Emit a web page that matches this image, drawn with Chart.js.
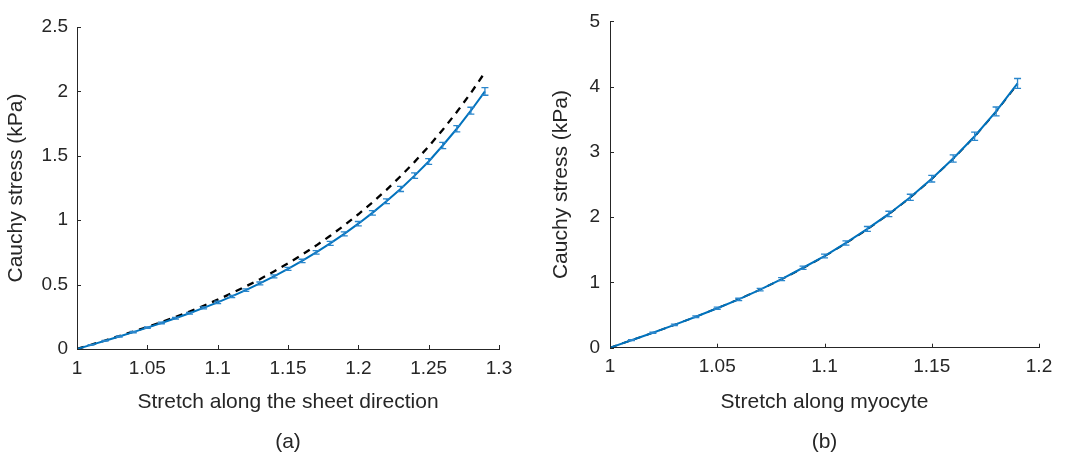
<!DOCTYPE html>
<html>
<head>
<meta charset="utf-8">
<script src="https://cdn.jsdelivr.net/npm/chart.js@4.4.0/dist/chart.umd.min.js"></script>
<style>
    html, body { margin: 0; padding: 0; background: #fff; }
    #wrap { position: relative; width: 1071px; height: 455px; }
    .box { position: absolute; top: 0; height: 455px; }
    #boxA { left: 0; width: 535px; }
    #boxB { left: 535px; width: 536px; }
</style>
</head>
<body>
<div id="wrap">
    <div class="box" id="boxA"><canvas id="chartA"></canvas></div>
    <div class="box" id="boxB"><canvas id="chartB"></canvas></div>
</div>
<script>
// (a) stretch along the sheet direction
const stretchA = [1.00, 1.01, 1.02, 1.03, 1.04, 1.05, 1.06, 1.07, 1.08, 1.09,
                  1.10, 1.11, 1.12, 1.13, 1.14, 1.15, 1.16, 1.17, 1.18, 1.19,
                  1.20, 1.21, 1.22, 1.23, 1.24, 1.25, 1.26, 1.27, 1.28, 1.29];
const stressA = [0, 0.032, 0.064, 0.097, 0.131, 0.166, 0.202, 0.239, 0.278, 0.319,
                 0.362, 0.408, 0.457, 0.509, 0.564, 0.622, 0.684, 0.75, 0.82, 0.894,
                 0.973, 1.057, 1.147, 1.243, 1.346, 1.456, 1.58, 1.71, 1.85, 2.0];
const errA = [0, 0.002, 0.003, 0.004, 0.005, 0.005, 0.006, 0.007, 0.007, 0.008,
              0.009, 0.009, 0.01, 0.011, 0.012, 0.012, 0.013, 0.014, 0.015, 0.016,
              0.017, 0.018, 0.019, 0.02, 0.021, 0.022, 0.024, 0.025, 0.027, 0.03];
const modelA = [0, 0.033, 0.066, 0.1, 0.135, 0.171, 0.209, 0.249, 0.291, 0.336,
                0.383, 0.433, 0.486, 0.542, 0.602, 0.665, 0.732, 0.803, 0.879, 0.96,
                1.046, 1.138, 1.236, 1.341, 1.453, 1.573, 1.702, 1.84, 1.988, 2.148];
const xTicksA = [1, 1.05, 1.1, 1.15, 1.2, 1.25, 1.3];
const yTicksA = [0, 0.5, 1, 1.5, 2, 2.5];

// (b) stretch along myocyte
const stretchB = [1.00, 1.01, 1.02, 1.03, 1.04, 1.05, 1.06, 1.07, 1.08, 1.09,
                  1.10, 1.11, 1.12, 1.13, 1.14, 1.15, 1.16, 1.17, 1.18, 1.19];
const stressB = [0, 0.115, 0.23, 0.35, 0.475, 0.605, 0.74, 0.89, 1.05, 1.225,
                 1.405, 1.605, 1.82, 2.05, 2.305, 2.59, 2.9, 3.24, 3.62, 4.05];
const errB = [0, 0.008, 0.01, 0.012, 0.014, 0.016, 0.018, 0.02, 0.023, 0.026,
              0.03, 0.033, 0.037, 0.041, 0.046, 0.051, 0.056, 0.062, 0.068, 0.075];
const modelB = [0, 0.114, 0.229, 0.349, 0.474, 0.605, 0.742, 0.89, 1.048, 1.22,
                1.4, 1.6, 1.814, 2.045, 2.3, 2.585, 2.895, 3.235, 3.615, 4.04];
const xTicksB = [1, 1.05, 1.1, 1.15, 1.2];
const yTicksB = [0, 1, 2, 3, 4, 5];

const BLUE = '#0072BD';
const INK = '#262626';
const FONT = 'Liberation Sans, Arial, Helvetica, sans-serif';

function points(xs, ys) {
    return xs.map((x, i) => ({ x: x, y: ys[i] }));
}

// MATLAB style ticks pointing into the axes, plus error bars
const matlabPlugin = {
    id: 'matlab',
    afterDatasetsDraw(chart) {
        const ctx = chart.ctx;
        const xs = chart.scales.x;
        const ys = chart.scales.y;
        const area = chart.chartArea;

        // error bars on the first dataset
        const ds = chart.data.datasets[0];
        if (ds.errors) {
            ctx.save();
            ctx.strokeStyle = '#2a86cc';
            ctx.lineWidth = 1.3;
            ds.data.forEach((p, i) => {
                const e = ds.errors[i];
                if (!e) return;
                const px = xs.getPixelForValue(p.x);
                const top = ys.getPixelForValue(p.y + e);
                const bot = ys.getPixelForValue(p.y - e);
                ctx.beginPath();
                ctx.moveTo(px, top);
                ctx.lineTo(px, bot);
                ctx.moveTo(px - 3.5, top);
                ctx.lineTo(px + 3.5, top);
                ctx.moveTo(px - 3.5, bot);
                ctx.lineTo(px + 3.5, bot);
                ctx.stroke();
            });
            ctx.restore();
        }

        ctx.save();
        ctx.strokeStyle = INK;
        ctx.lineWidth = 1;
        ctx.beginPath();
        xs.ticks.forEach(t => {
            const px = Math.round(xs.getPixelForValue(t.value)) + 0.5;
            ctx.moveTo(px, area.bottom);
            ctx.lineTo(px, area.bottom - 4);
        });
        ys.ticks.forEach(t => {
            const py = Math.round(ys.getPixelForValue(t.value)) + 0.5;
            ctx.moveTo(area.left, py);
            ctx.lineTo(area.left + 4, py);
        });
        ctx.stroke();
        ctx.restore();
    }
};

function makeChart(id, cfg) {
    const ctx = document.getElementById(id).getContext('2d');
    return new Chart(ctx, {
        type: 'line',
        data: {
            datasets: [{
                data: points(cfg.xs, cfg.ys),
                errors: cfg.errs,
                borderColor: BLUE,
                borderWidth: 2,
                pointRadius: 0,
                tension: 0,
                fill: false
            }, {
                data: points(cfg.xs, cfg.model),
                borderColor: '#000',
                borderWidth: cfg.dashWidth,
                borderDash: [7, 6],
                pointRadius: 0,
                tension: 0,
                fill: false
            }]
        },
        options: {
            responsive: true,
            maintainAspectRatio: false,
            animation: false,
            events: [],
            layout: {
                padding: { top: cfg.top, right: cfg.right, left: 0, bottom: 0 }
            },
            plugins: {
                legend: { display: false },
                tooltip: { enabled: false },
                title: {
                    display: true,
                    text: cfg.caption,
                    position: 'bottom',
                    fullSize: false,
                    color: INK,
                    font: { family: FONT, size: 21, weight: 'normal' },
                    padding: { top: 4, bottom: 0 }
                }
            },
            scales: {
                x: {
                    type: 'linear',
                    min: cfg.xTicks[0],
                    max: cfg.xTicks[cfg.xTicks.length - 1],
                    afterBuildTicks: s => { s.ticks = cfg.xTicks.map(v => ({ value: v })); },
                    afterFit: s => { s.height = cfg.xHeight; },
                    grid: { display: false, drawTicks: false },
                    border: { display: true, color: INK, width: 1 },
                    ticks: {
                        color: INK,
                        padding: 8,
                        maxRotation: 0,
                        autoSkip: false,
                        font: { family: FONT, size: 19 },
                        callback: v => String(v)
                    },
                    title: {
                        display: true,
                        text: cfg.xTitle,
                        color: INK,
                        font: { family: FONT, size: 21 },
                        padding: { top: 0, bottom: 11 }
                    }
                },
                y: {
                    min: cfg.yTicks[0],
                    max: cfg.yTicks[cfg.yTicks.length - 1],
                    afterBuildTicks: s => { s.ticks = cfg.yTicks.map(v => ({ value: v })); },
                    afterFit: s => { s.width = cfg.yWidth; },
                    grid: { display: false, drawTicks: false },
                    border: { display: true, color: INK, width: 1 },
                    ticks: {
                        color: INK,
                        padding: cfg.yPad,
                        autoSkip: false,
                        font: { family: FONT, size: 19 },
                        callback: v => String(v)
                    },
                    title: {
                        display: true,
                        text: 'Cauchy stress (kPa)',
                        color: INK,
                        font: { family: FONT, size: 21 },
                        padding: { top: cfg.yTitlePad, bottom: 0 }
                    }
                }
            }
        },
        plugins: [matlabPlugin]
    });
}

window.addEventListener('load', () => {
    makeChart('chartA', {
        xs: stretchA, ys: stressA, errs: errA, model: modelA,
        xTicks: xTicksA, yTicks: yTicksA,
        xTitle: 'Stretch along the sheet direction', caption: '(a)',
        top: 27, right: 36, xHeight: 76.8, yWidth: 77, yPad: 9, yTitlePad: 4,
        dashWidth: 2.3
    });
    makeChart('chartB', {
        xs: stretchB, ys: stressB, errs: errB, model: modelB,
        xTicks: xTicksB, yTicks: yTicksB,
        xTitle: 'Stretch along myocyte', caption: '(b)',
        top: 14, right: 32, xHeight: 78.1, yWidth: 75, yPad: 10, yTitlePad: 14,
        dashWidth: 1.8
    });
});
</script>
</body>
</html>
